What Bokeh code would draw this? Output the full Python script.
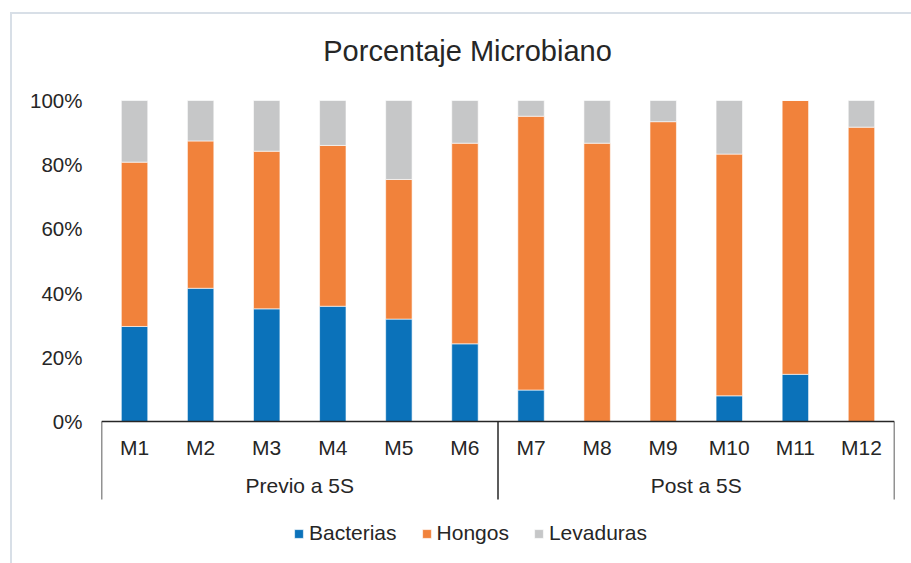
from bokeh.plotting import figure
from bokeh.models import (Range1d, FactorRange, FixedTicker, PrintfTickFormatter,
                          Label, Legend, ColumnDataSource)
from bokeh.core.properties import value
from bokeh.embed import file_html
from bokeh.resources import INLINE

# ---------------- data ----------------
categories = ["M1", "M2", "M3", "M4", "M5", "M6", "M7", "M8", "M9", "M10", "M11", "M12"]
groups = ["Previo a 5S", "Post a 5S"]
group_sizes = [6, 6]
series = ["Bacterias", "Hongos", "Levaduras"]
bacterias = [29.6, 41.5, 35.1, 35.9, 31.9, 24.2, 9.8, 0.0, 0.0, 8.0, 14.7, 0.0]
hongos = [51.2, 45.9, 49.1, 50.1, 43.5, 62.5, 85.3, 86.7, 93.4, 75.3, 85.3, 91.7]
levaduras = [19.2, 12.6, 15.8, 14.0, 24.6, 13.3, 4.9, 13.3, 6.6, 16.7, 0.0, 8.3]
y_ticks = [0, 20, 40, 60, 80, 100]
title_text = "Porcentaje Microbiano"

# ---------------- styling ----------------
colors = ["#0B72BA", "#F1823B", "#C6C7C8"]
FONT = "Liberation Sans"
TXT = "#262626"
LINE = "#262626"

FIG_W, FIG_H = 911, 563
PX = 3.21          # pixels per percent unit
Y0 = 421           # pixel row of the 0% baseline
y_start = -(FIG_H - Y0) / PX
y_end = Y0 / PX

def ypx(fig_y):
    """pixel row -> data value"""
    return (Y0 - fig_y) / PX

p = figure(width=FIG_W, height=FIG_H,
           x_range=FactorRange(*categories, range_padding=0),
           y_range=Range1d(y_start, y_end),
           x_axis_location=None,
           output_backend="svg", toolbar_location=None)
p.min_border = 0
p.min_border_left = 101
p.min_border_right = 17
p.min_border_top = 0
p.min_border_bottom = 0
p.outline_line_color = None
p.grid.visible = False
p.border_fill_color = None
p.background_fill_color = None
p.styles = {"box-shadow": "inset 10px 12px 0 0 #ffffff, inset 12px 14px 0 0 #D8DFE7"}

ax = p.yaxis[0]
ax.ticker = FixedTicker(ticks=y_ticks)
ax.formatter = PrintfTickFormatter(format="%d%%")
ax.axis_line_color = None
ax.major_tick_line_color = None
ax.minor_tick_line_color = None
ax.major_tick_out = 0
ax.major_tick_in = 0
ax.major_label_standoff = 19
ax.major_label_text_font = FONT
ax.major_label_text_font_size = "20.5px"
ax.major_label_text_color = TXT

src = ColumnDataSource(dict(cat=categories, Bacterias=bacterias,
                            Hongos=hongos, Levaduras=levaduras))
renderers = p.vbar_stack(series, x="cat", width=0.4, source=src,
                         fill_color=colors, line_color="white", line_width=0.6)

# category axis with group brackets
n = len(categories)
bounds = [0]
for g in group_sizes:
    bounds.append(bounds[-1] + g)
centers = [(a + b) / 2 for a, b in zip(bounds[:-1], bounds[1:])]

p.segment(x0=[bounds[0]], y0=[0], x1=[bounds[-1]], y1=[0],
          line_color=LINE, line_width=1.5)
p.segment(x0=bounds, y0=[0] * len(bounds), x1=bounds,
          y1=[ypx(499)] * len(bounds), line_color=LINE, line_width=1.5)

p.text(x=categories, y=[ypx(446.5)] * n, text=categories,
       text_align="center", text_baseline="middle",
       text_font=value(FONT), text_font_size="21px", text_color=TXT)
p.text(x=centers, y=[ypx(485)] * len(groups), text=groups,
       text_align="center", text_baseline="middle",
       text_font=value(FONT), text_font_size="21px", text_color=TXT)

p.add_layout(Label(x=5.539, y=ypx(50), text=title_text,
                   text_align="center", text_baseline="middle",
                   text_font=FONT, text_font_size="29px", text_color=TXT))

legend = Legend(items=[(s, [r]) for s, r in zip(series, renderers)],
                location=(192, 18), orientation="horizontal",
                glyph_width=11, glyph_height=11, label_standoff=5, spacing=24,
                padding=0, margin=0, border_line_color=None,
                background_fill_alpha=0,
                label_text_font=FONT, label_text_font_size="21px",
                label_text_color=TXT)
p.add_layout(legend)

open("out.html", "w").write(file_html(p, INLINE))
